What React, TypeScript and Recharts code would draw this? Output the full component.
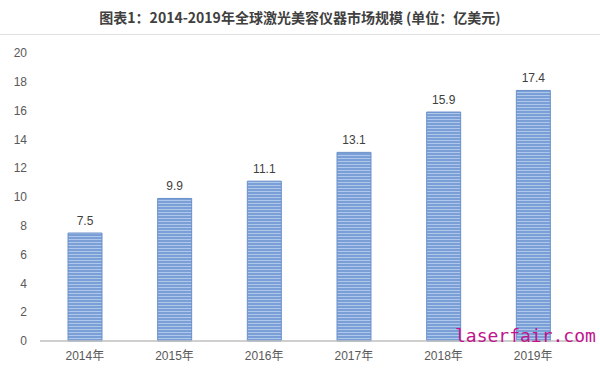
import { BarChart, Bar, XAxis, YAxis, LabelList } from 'recharts';

const years = ['2014年', '2015年', '2016年', '2017年', '2018年', '2019年'];
const marketSize = [7.5, 9.9, 11.1, 13.1, 15.9, 17.4];
const yTicks = [0, 2, 4, 6, 8, 10, 12, 14, 16, 18, 20];

const title = '图表1：2014-2019年全球激光美容仪器市场规模 (单位：亿美元)';
const watermark = 'laserfair.com';

const chartData = years.map((year, i) => ({ year, value: marketSize[i] }));

const font = '"Liberation Sans", "Noto Sans CJK SC", sans-serif';

const App = () => {
  return (
    <div style={{ position: 'absolute', left: 0, top: 0, width: 600, height: 373, background: '#fff', overflow: 'hidden' }}>
      <div
        style={{
          position: 'absolute', left: 0, top: 7, width: 600, textAlign: 'center',
          fontFamily: '"Noto Sans CJK SC", sans-serif', fontWeight: 'bold', fontSize: 14, color: '#404040', lineHeight: '20px',
        }}
      >
        {title}
      </div>
      <div style={{ position: 'absolute', left: 0, top: 34, width: 600, height: 1, background: '#e0e0e0' }} />
      <BarChart
        width={600}
        height={373}
        data={chartData}
        margin={{ top: 53, right: 22, bottom: 2, left: 0 }}
        style={{ fontFamily: font }}
      >
        <defs>
          <pattern id="stripes" width="4" height="3" patternUnits="userSpaceOnUse">
            <rect width="4" height="3" fill="#7a9fd6" />
            <rect y="2" width="4" height="1" fill="#afc7ea" />
          </pattern>
        </defs>
        <XAxis
          dataKey="year"
          height={30}
          tickLine={false}
          tickSize={0}
          tickMargin={10}
          axisLine={{ stroke: '#bfbfbf', strokeWidth: 1.5 }}
          tick={{ fontSize: 12, fill: '#595959' }}
        />
        <YAxis
          width={40}
          domain={[0, 20]}
          ticks={yTicks}
          axisLine={false}
          tickLine={false}
          tickSize={0}
          tickMargin={13}
          tick={{ fontSize: 12, fill: '#595959' }}
        />
        <Bar dataKey="value" fill="url(#stripes)" stroke="#6a90c9" strokeWidth={1} barSize={34} isAnimationActive={false}>
          <LabelList dataKey="value" position="top" offset={8} style={{ fontSize: 12, fill: '#404040' }} />
        </Bar>
      </BarChart>
      <div
        style={{
          position: 'absolute', left: 455, top: 325, fontFamily: '"DejaVu Sans Mono", monospace',
          fontSize: 18, color: '#c0148e', letterSpacing: 0, lineHeight: '22px',
        }}
      >
        {watermark}
      </div>
    </div>
  );
};

export default App;
